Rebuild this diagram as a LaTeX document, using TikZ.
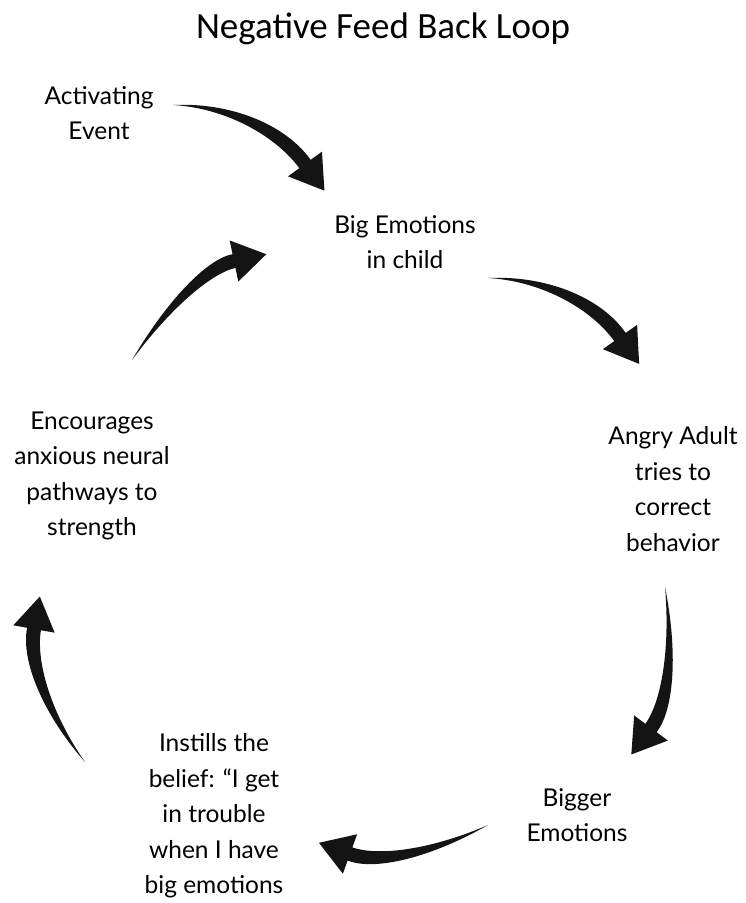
\documentclass[tikz,border=0pt]{standalone}
\usepackage{fontspec}
\setmainfont{Lato}
\newfontfamily\headfont{Carlito}
\usetikzlibrary{calc}

% tapered curved arrow: #1 tail, #2 bend control, #3 neck (base of head)
\newcommand{\swoosh}[3]{%
  \path ($(#2)!8pt!-90:(#3)$) coordinate (ca) ($(#2)!8pt!90:(#3)$) coordinate (cb)
        ($(#3)!7pt!90:(#2)$) coordinate (na) ($(#3)!7pt!-90:(#2)$) coordinate (nb);
  \fill[swooshfill] (#1) .. controls ($(#1)!0.6!(ca)$) and ($(na)!0.6!(ca)$) .. (na)
    -- ($(#3)!21pt!90:(#2)$) -- ($(#3)!-33pt!(#2)$)
    -- ($(#3)!21pt!-90:(#2)$) -- (nb)
    .. controls ($(nb)!0.6!(cb)$) and ($(#1)!0.6!(cb)$) .. (#1) -- cycle;
}

\begin{document}
\begin{tikzpicture}[
    x=1pt, y=-1pt,
    heading/.style={font=\headfont\fontsize{37}{44}\selectfont}, % title
    phase/.style={align=center, inner sep=0pt,
      font=\fontsize{24.5}{35.5}\selectfont}, % text of the loop
    swooshfill/.style={fill=black!92}
]
    \useasboundingbox (0,0) rectangle (745,903);

    % Title
    \node[heading] (title) at (383,29) {Negative Feed Back Loop};

    % Stages of the loop
    \node[phase] (event)  at (99,113)  {Activating\\Event};
    \node[phase] (child)  at (405,242) {Big Emotions\\in child};
    \node[phase] (adult)  at (673,489) {Angry Adult\\tries to\\correct\\behavior};
    \node[phase] (bigger) at (577,815) {Bigger\\Emotions};
    \node[phase] (belief) at (214,816) {Instills the\\belief: ``I get\\in trouble\\when I have\\big emotions};
    \node[phase] (paths)  at (92,476)  {Encourages\\anxious neural\\pathways to\\strength};

    % Arrows (tail, control, neck)
    \coordinate (t1) at (173,105); \coordinate (c1) at (262,105); \coordinate (n1) at (305,164);
    \coordinate (t2) at (488,278); \coordinate (c2) at (578,278); \coordinate (n2) at (620,337);
    \coordinate (t3) at (665,587); \coordinate (c3) at (680,689); \coordinate (n3) at (651,728);
    \coordinate (t4) at (488,825); \coordinate (c4) at (397,871); \coordinate (n4) at (350,854);
    \coordinate (t5) at (85,762);  \coordinate (c5) at (24,685);  \coordinate (n5) at (34,629);
    \coordinate (t6) at (132,360); \coordinate (c6) at (191,270); \coordinate (n6) at (234,261);

    \foreach \i in {1,...,6} {
      \swoosh{t\i}{c\i}{n\i}
    }
\end{tikzpicture}
\end{document}
